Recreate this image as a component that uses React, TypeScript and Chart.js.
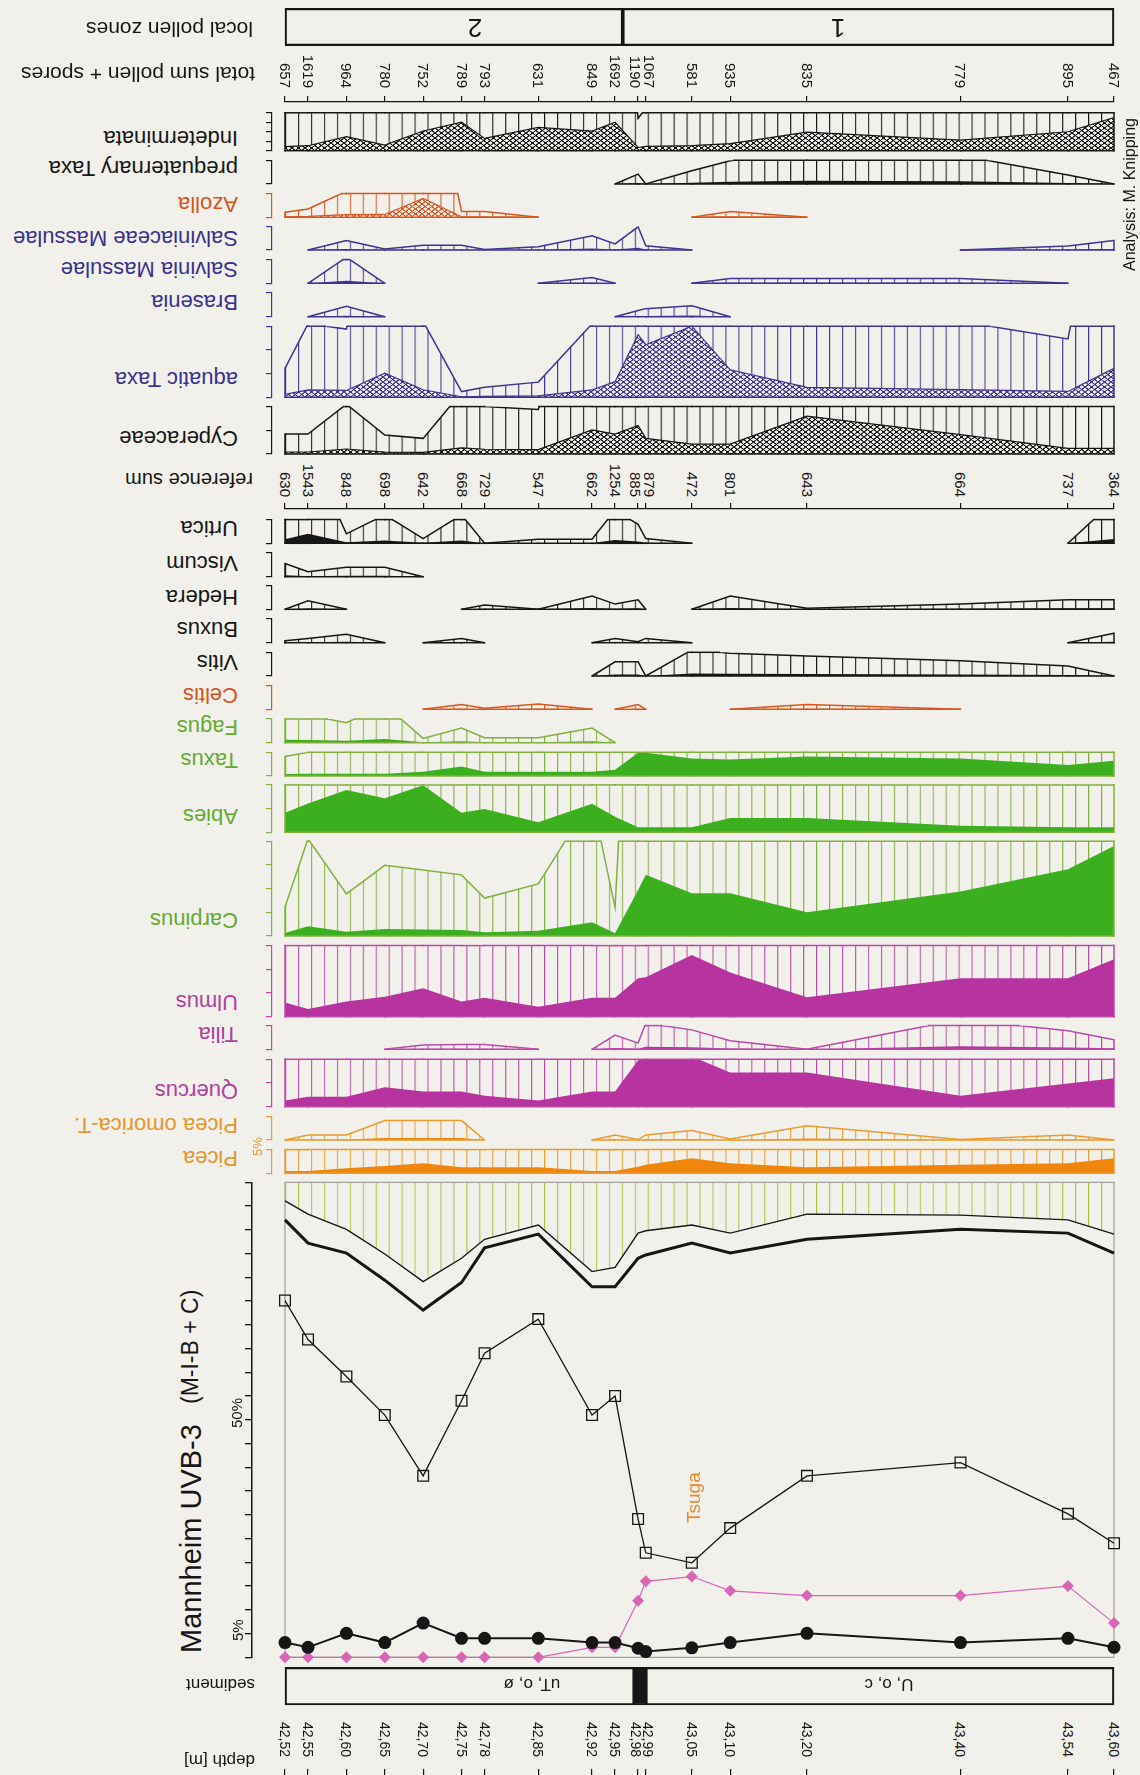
import React, { useEffect, useRef } from 'react';
import { Chart, registerables } from 'chart.js';

Chart.register(...registerables);

// ---------------- data ----------------
const depths = [42.52, 42.55, 42.6, 42.65, 42.7, 42.75, 42.78, 42.85, 42.92, 42.95, 42.98, 42.99, 43.05, 43.1, 43.2, 43.4, 43.54, 43.6];
const depthLabels = ['42,52', '42,55', '42,60', '42,65', '42,70', '42,75', '42,78', '42,85', '42,92', '42,95', '42,98', '42,99', '43,05', '43,10', '43,20', '43,40', '43,54', '43,60'];
const totalSum = [657, 1619, 964, 780, 752, 789, 793, 631, 849, 1692, 1190, 1067, 581, 935, 835, 779, 895, 467];
const referenceSum = [630, 1543, 848, 698, 642, 668, 729, 547, 662, 1254, 885, 879, 472, 801, 643, 664, 737, 364];

const zoneBounds = [42.52, 42.96, 43.6];
const zoneLabels = ['2', '1'];
const sedimentBounds = [42.52, 42.975, 42.99, 43.6];
const sedimentLabels = ['uT, o, ø', '', 'U, o, c'];

// pollen percentages (null = not recorded)
const indeterminata = [0.85, 1.05, 2.96, 1.2, 4.15, 6.0, 2.6, 4.9, 4.15, 6.0, 0.68, 0.9, 1.05, 1.5, 3.9, 2.25, 4.0, 7.0];
const prequaternary = [null, null, null, null, null, null, null, null, null, 0, 0.21, 0, 0.28, 0.49, 0.7, 0.6, 0.19, 0];
const azolla = [0.106, 0.176, 0.55, 0.6, 4.0, 0.12, 0.12, 0, null, null, null, null, 0, 0.12, 0, null, null, null];
const salviniaceae = [null, 0, 0.2, 0.02, 0.1, 0.1, 0.01, 0.07, 0.3, 0.13, 0.49, 0.09, 0, null, null, 0, 0.085, 0.2];
const salvinia = [null, 0, 0.55, 0, null, null, null, 0, 0.12, 0, null, null, 0, 0.1, 0.1, 0.1, 0, null];
const brasenia = [null, 0, 0.22, 0, null, null, null, null, null, 0, 0.13, 0.17, 0.23, 0, null, null, null, null];
const aquaticTaxa = [0.61, 1.55, 1.44, 5.1, 1.6, 0.12, 0.21, 0.32, 1.55, 3.3, 13.2, 11.1, 15.0, 5.8, 2.1, 1.6, 1.23, 6.1];
const cyperaceae = [0.42, 0.42, 1.05, 0.4, 0.33, 1.3, 1.0, 0.94, 5.1, 4.2, 6.0, 3.3, 2.1, 2.1, 8.0, 4.1, 1.2, 1.2];
const urtica = [0.85, 2.0, 0.2, 0.6, 0.1, 0.6, 0, 0.085, 0.085, 0.7, 0.4, 0.1, 0, null, null, null, 0, 0.9];
const viscum = [0.28, 0.106, 0.2, 0.2, 0, null, null, null, null, null, null, null, null, null, null, null, null, null];
const hedera = [0, 0.18, 0, null, null, 0, 0.09, 0, 0.28, 0.11, 0.2, 0, 0, 0.28, 0.02, 0.11, 0.2, 0.2];
const buxus = [0.04, 0.09, 0.18, 0, 0, 0.09, 0, null, 0, 0.09, 0.02, 0.09, 0, null, null, null, 0, 0.2];
const vitis = [null, null, null, null, null, null, null, null, 0, 0.3, 0.3, 0, 0.55, 0.48, 0.42, 0.32, 0.21, 0];
const celtis = [null, null, null, null, 0, 0.1, 0.02, 0.11, 0, 0, 0.1, 0, null, 0, 0.1, 0, null, null];
const fagus = [0.6, 0.58, 0.42, 0.8, 0.09, 0.31, 0.106, 0.106, 0.31, 0, null, null, null, null, null, null, null, null];
const taxus = [0.41, 0.5, 0.5, 0.5, 0.9, 2.0, 0.9, 0.9, 0.9, 1.3, 4.9, 4.9, 3.7, 3.5, 4.1, 3.7, 2.3, 3.2];
const abies = [4.15, 6.1, 8.9, 7.2, 9.95, 4.15, 4.9, 2.1, 6.0, 3.3, 1.06, 1.06, 1.06, 3.0, 3.0, 1.4, 1.06, 1.06];
const carpinus = [0.61, 2.05, 0.89, 1.49, 1.39, 1.29, 0.8, 1.1, 2.9, 0.6, 9.7, 12.9, 9.0, 9.0, 5.0, 9.4, 14.1, 19.0];
const ulmus = [3.0, 1.6, 3.2, 4.2, 6.0, 3.2, 4.0, 2.1, 4.0, 4.0, 8.1, 8.3, 13.0, 9.3, 4.1, 8.1, 8.1, 12.1];
const tilia = [null, null, null, 0, 0.09, 0.1, 0.1, 0, 0, 0.3, 0.13, 0.55, 0.41, 0.18, 0, 0.63, 0.39, 0.2];
const quercus = [1.3, 2.1, 2.1, 4.1, 3.2, 3.2, 2.3, 1.3, 3.2, 3.2, 9.8, 10.5, 10.6, 7.2, 7.2, 2.3, 4.9, 6.0];
const piceaOmorica = [0, 0.106, 0.106, 0.41, 0.41, 0.41, 0, null, 0, 0.106, 0.01, 0.106, 0.2, 0.02, 0.3, 0.01, 0.106, 0];
const picea = [0.5, 0.5, 1.05, 1.55, 2.1, 1.3, 1.3, 1.3, 0.5, 0.5, 1.4, 1.8, 3.2, 2.1, 1.3, 1.8, 2.1, 3.2];

// summary diagram (percent)
const sumThin = [96.1, 93.3, 90.1, 84.9, 79.1, 84.0, 88.0, 91.0, 81.2, 82.1, 89.3, 89.8, 91.0, 89.3, 93.3, 93.1, 92.1, 89.1];
const sumThick = [92.1, 87.2, 85.1, 79.4, 73.1, 78.9, 86.2, 89.1, 78.0, 78.0, 84.0, 84.7, 87.2, 85.1, 88.0, 90.1, 89.3, 85.1];
const squareSeries = [75.1, 66.9, 59.1, 51.0, 38.2, 54.0, 64.0, 71.2, 51.0, 55.0, 29.1, 22.0, 19.9, 27.2, 38.2, 41.0, 30.2, 24.0];
const diamondSeries = [0, 0, 0, 0, 0, 0, 0, 0, 2.1, 2.1, 11.9, 16.0, 17.0, 14.0, 13.0, 13.0, 15.0, 7.2];
const circleSeries = [3.1, 2.1, 5.05, 3.1, 7.2, 4.0, 4.0, 4.0, 3.1, 3.1, 1.9, 1.2, 2.0, 3.1, 5.05, 3.1, 4.0, 2.1];

// ---------------- styling ----------------
const BG = '#f2f0eb';
const BLACK = '#161616';
const FONT = '"Liberation Sans", Arial, Helvetica, sans-serif';
const COLORS: any = {
  black: { line: '#161616', solid: '#161616', label: '#161616' },
  orange: { line: '#e99b2e', solid: '#f0870c', label: '#e5962c' },
  red: { line: '#d9561e', solid: '#d9561e', label: '#d8541c' },
  magenta: { line: '#b94aa9', solid: '#b7339f', label: '#b0409f' },
  green: { line: '#80b03e', solid: '#3caf1f', label: '#62aa34' },
  blue: { line: '#3d3493', solid: '#3d3493', label: '#3a3090' },
};
const MAIN_HATCH = '#aac640';
const PINK = '#d865b5';
const ORANGE_TXT = '#e8892a';

const EXAG = 10;
const X0 = 285, X1 = 1114;
const D0 = depths[0], D1 = depths[depths.length - 1];
const PXM = (X1 - X0) / (D1 - D0);
const xPix = (d: number) => X0 + (d - D0) * PXM;
const PPP = 4.74;
const CL = 240, CW = 890, CR = CL + CW;
const PANEL_AXIS = 272, MAIN_AXIS = 252;

type Panel = { name: string; values: (number | null)[]; base: number; max: number; tick: number; color: string; real: 'solid' | 'cross'; labelY: number };

const PANELS: Panel[] = [
  { name: 'Indeterminata', values: indeterminata, base: 150.7, max: 8, tick: 2, color: 'black', real: 'cross', labelY: 138 },
  { name: 'prequaternary Taxa', values: prequaternary, base: 184, max: 5, tick: 5, color: 'black', real: 'solid', labelY: 167.5 },
  { name: 'Azolla', values: azolla, base: 217.3, max: 5, tick: 5, color: 'red', real: 'cross', labelY: 203.8 },
  { name: 'Salviniaceae Massulae', values: salviniaceae, base: 250, max: 5, tick: 5, color: 'blue', real: 'solid', labelY: 237.7 },
  { name: 'Salvinia Massulae', values: salvinia, base: 283.3, max: 5, tick: 5, color: 'blue', real: 'solid', labelY: 269.4 },
  { name: 'Brasenia', values: brasenia, base: 316.7, max: 5, tick: 5, color: 'blue', real: 'solid', labelY: 302 },
  { name: 'aquatic Taxa', values: aquaticTaxa, base: 397.3, max: 15, tick: 5, color: 'blue', real: 'cross', labelY: 379 },
  { name: 'Cyperaceae', values: cyperaceae, base: 454, max: 10, tick: 5, color: 'black', real: 'cross', labelY: 438 },
  { name: 'Urtica', values: urtica, base: 543.3, max: 5, tick: 5, color: 'black', real: 'solid', labelY: 527.6 },
  { name: 'Viscum', values: viscum, base: 576.7, max: 5, tick: 5, color: 'black', real: 'solid', labelY: 562.6 },
  { name: 'Hedera', values: hedera, base: 609.3, max: 5, tick: 5, color: 'black', real: 'solid', labelY: 596.6 },
  { name: 'Buxus', values: buxus, base: 642.7, max: 5, tick: 5, color: 'black', real: 'solid', labelY: 629.4 },
  { name: 'Vitis', values: vitis, base: 676, max: 5, tick: 5, color: 'black', real: 'solid', labelY: 662.3 },
  { name: 'Celtis', values: celtis, base: 709.3, max: 5, tick: 5, color: 'red', real: 'solid', labelY: 695.1 },
  { name: 'Fagus', values: fagus, base: 742.7, max: 5, tick: 5, color: 'green', real: 'solid', labelY: 726.8 },
  { name: 'Taxus', values: taxus, base: 776, max: 5, tick: 5, color: 'green', real: 'solid', labelY: 759.6 },
  { name: 'Abies', values: abies, base: 832.3, max: 10, tick: 5, color: 'green', real: 'solid', labelY: 816.2 },
  { name: 'Carpinus', values: carpinus, base: 936, max: 20, tick: 5, color: 'green', real: 'solid', labelY: 920.4 },
  { name: 'Ulmus', values: ulmus, base: 1016.7, max: 15, tick: 5, color: 'magenta', real: 'solid', labelY: 1001.9 },
  { name: 'Tilia', values: tilia, base: 1049.3, max: 5, tick: 5, color: 'magenta', real: 'solid', labelY: 1033.6 },
  { name: 'Quercus', values: quercus, base: 1106.7, max: 10, tick: 5, color: 'magenta', real: 'solid', labelY: 1091.3 },
  { name: 'Picea omorica-T.', values: piceaOmorica, base: 1140, max: 5, tick: 5, color: 'orange', real: 'solid', labelY: 1125.3 },
  { name: 'Picea', values: picea, base: 1173.3, max: 5, tick: 5, color: 'orange', real: 'solid', labelY: 1158.1 },
];

// ---------------- helpers ----------------
function hatchPattern(color: string): CanvasPattern {
  const c = document.createElement('canvas');
  c.width = 16; c.height = 8;
  const g = c.getContext('2d')!;
  g.fillStyle = color;
  g.fillRect(0, 0, 1.3, 8);
  const p = g.createPattern(c, 'repeat')!;
  const period = (X1 - X0) / 64;
  p.setTransform(new DOMMatrix([period / 16, 0, 0, 1, X0 - CL, 0]));
  return p;
}

function crossPattern(color: string): CanvasPattern {
  const w = 26, h = 20;
  const c = document.createElement('canvas');
  c.width = w; c.height = h;
  const g = c.getContext('2d')!;
  g.fillStyle = BG; g.fillRect(0, 0, w, h);
  g.strokeStyle = color; g.lineWidth = 4.4;
  g.beginPath();
  for (let k = -1; k <= 1; k++) {
    g.moveTo(k * w, 0); g.lineTo(k * w + w, h);
    g.moveTo(k * w + w, 0); g.lineTo(k * w, h);
  }
  g.stroke();
  const p = g.createPattern(c, 'repeat')!;
  p.setTransform(new DOMMatrix([0.25, 0, 0, 0.25, 0, 0]));
  return p;
}

const pts = (vals: (number | null)[], f = 1) => vals.map((v, i) => ({ x: depths[i], y: v == null ? null : v * f }));

const baseOpts = (padL: number, padR: number, padT: number, padB: number) => ({
  animation: false,
  responsive: false,
  devicePixelRatio: 1,
  events: [],
  layout: { padding: { left: padL, right: padR, top: padT, bottom: padB } },
  plugins: { legend: { display: false }, tooltip: { enabled: false } },
});

const hideZero = {
  borderColor: (ctx: any) => (ctx.p0.parsed.y === 0 && ctx.p1.parsed.y === 0 ? 'rgba(0,0,0,0)' : undefined),
};

function outlinePlugin(vals: (number | null)[], max: number, color: string, width: number) {
  return {
    id: 'outline',
    afterDatasetsDraw(chart: any) {
      const ctx = chart.ctx, xs = chart.scales.x, ys = chart.scales.y;
      const yT = ys.getPixelForValue(max), yB = ys.getPixelForValue(0);
      ctx.save();
      ctx.strokeStyle = color; ctx.lineWidth = width; ctx.lineCap = 'square';
      const seg = (a: number, b: number, c: number, d: number) => { ctx.beginPath(); ctx.moveTo(a, b); ctx.lineTo(c, d); ctx.stroke(); };
      for (let i = 0; i < vals.length; i++) {
        const v = vals[i];
        if (v == null) continue;
        const x = xs.getPixelForValue(depths[i]);
        const prev = i > 0 ? vals[i - 1] : null;
        const next = i < vals.length - 1 ? vals[i + 1] : null;
        if (v > 0 && (prev == null || next == null)) seg(x, yB, x, ys.getPixelForValue(Math.min(v, max)));
        if (next != null) {
          const xn = xs.getPixelForValue(depths[i + 1]);
          if (v > 0 || next > 0) seg(x, yB, xn, yB);
          if (v >= max || next >= max) {
            const f = (t: number) => x + ((t - v) / (next - v)) * (xn - x);
            const s = v >= max ? x : f(max);
            const e = next >= max ? xn : f(max);
            if (e > s) seg(s, yT, e, yT);
          }
        }
      }
      ctx.restore();
    },
  };
}

function framePlugin(color: string) {
  return {
    id: 'frame',
    beforeDatasetsDraw(chart: any) {
      const ctx = chart.ctx, xs = chart.scales.x, ys = chart.scales.y;
      const l = xs.getPixelForValue(D0), r = xs.getPixelForValue(D1);
      const t = ys.getPixelForValue(100), b = ys.getPixelForValue(0);
      ctx.save();
      ctx.strokeStyle = color; ctx.lineWidth = 1;
      ctx.strokeRect(l, t, r - l, b - t);
      ctx.restore();
    },
  };
}

function ChartBox({ left, top, width, height, make }: any) {
  const ref = useRef<HTMLCanvasElement>(null);
  useEffect(() => {
    const chart = new Chart(ref.current as any, make());
    return () => chart.destroy();
  }, []);
  return <canvas ref={ref} width={width} height={height} style={{ position: 'absolute', left, top, width, height }} />;
}

function PanelChart({ p }: { p: Panel }) {
  const col = COLORS[p.color];
  const panelTop = p.base - p.max * PPP;
  const top = Math.floor(panelTop) - 4;
  const height = Math.ceil(p.base) + 4 - top;
  const padT = panelTop - top;
  const padB = height - padT - p.max * PPP;
  const make = () => {
    const exag = p.values.map((v) => (v == null ? null : v * EXAG));
    const AW = 6;
    return {
      type: 'line',
      data: {
        datasets: [
          {
            data: pts(p.values),
            borderColor: p.real === 'cross' ? col.line : 'rgba(0,0,0,0)',
            borderWidth: p.real === 'cross' ? 1.2 : 0,
            backgroundColor: p.real === 'cross' ? crossPattern(col.solid) : col.solid,
            fill: 'origin', pointRadius: 0, tension: 0, spanGaps: false,
            clip: { left: 2, right: 2, top: 0, bottom: 2 }, segment: hideZero,
          },
          {
            data: pts(exag),
            borderColor: col.line, borderWidth: 1.5,
            backgroundColor: hatchPattern(col.line),
            fill: 'origin', pointRadius: 0, tension: 0, spanGaps: false,
            clip: { left: 2, right: 2, top: 0, bottom: 2 }, segment: hideZero,
          },
        ],
      },
      options: {
        ...baseOpts(PANEL_AXIS - AW - CL, CR - X1, padT, padB),
        scales: {
          x: { type: 'linear', min: D0 - (X0 - PANEL_AXIS) / PXM, max: D1, display: false },
          y: {
            min: 0, max: p.max, position: 'left',
            ticks: { display: false, stepSize: p.tick },
            grid: { drawOnChartArea: false, drawTicks: true, tickLength: AW, color: col.line, lineWidth: 1.2 },
            border: { display: true, color: col.line, width: 1.2 },
            afterFit: (s: any) => { s.width = AW; },
          },
        },
      },
      plugins: [outlinePlugin(exag, p.max, col.line, 1.5)],
    };
  };
  return <ChartBox left={CL} top={top} width={CW} height={height} make={make} />;
}

const MAIN_TOP = 1182.3, MAIN_BOTTOM = 1657.3;
function MainChart() {
  const top = 1170, height = 500;
  const make = () => {
    const AW = 7;
    return {
      type: 'line',
      data: {
        datasets: [
          { data: pts(circleSeries), borderColor: BLACK, borderWidth: 2, pointStyle: 'circle', pointRadius: 6.5, pointBackgroundColor: BLACK, pointBorderColor: BLACK, pointBorderWidth: 0, clip: false },
          { data: pts(diamondSeries), borderColor: PINK, borderWidth: 1.2, pointStyle: 'rectRot', pointRadius: 6, pointBackgroundColor: PINK, pointBorderColor: PINK, pointBorderWidth: 0, clip: false },
          { data: pts(squareSeries), borderColor: BLACK, borderWidth: 1.3, pointStyle: 'rect', pointRadius: 7.6, pointBackgroundColor: 'rgba(0,0,0,0)', pointBorderColor: BLACK, pointBorderWidth: 1.3, clip: false },
          { data: pts(sumThick), borderColor: BLACK, borderWidth: 3, pointRadius: 0, clip: false },
          { data: pts(sumThin), borderColor: BLACK, borderWidth: 1.4, pointRadius: 0, fill: 'end', backgroundColor: hatchPattern(MAIN_HATCH), clip: false },
        ],
      },
      options: {
        ...baseOpts(MAIN_AXIS - AW - CL, CR - X1, MAIN_TOP - top, top + height - MAIN_BOTTOM),
        scales: {
          x: { type: 'linear', min: D0 - (X0 - MAIN_AXIS) / PXM, max: D1, display: false },
          y: {
            min: 0, max: 100, position: 'left',
            ticks: { display: false, stepSize: 5 },
            grid: { drawOnChartArea: false, drawTicks: true, tickLength: AW, color: BLACK, lineWidth: 1.3 },
            border: { display: true, color: BLACK, width: 1.5 },
            afterFit: (s: any) => { s.width = AW; },
          },
        },
      },
      plugins: [framePlugin('#8c8c8c')],
    };
  };
  return <ChartBox left={CL} top={top} width={CW} height={height} make={make} />;
}

function TickAxis({ y, position }: { y: number; position: 'top' | 'bottom' }) {
  const TL = 6;
  const top = position === 'top' ? y - TL : y - 6;
  const height = 12;
  const make = () => ({
    type: 'line',
    data: { datasets: [{ data: [] }] },
    options: {
      ...baseOpts(X0 - CL, CR - X1, 0, 0),
      scales: {
        x: {
          type: 'linear', min: D0, max: D1, position,
          afterBuildTicks: (s: any) => { s.ticks = depths.map((v) => ({ value: v })); },
          ticks: { display: false },
          grid: { drawOnChartArea: false, drawTicks: true, tickLength: TL, color: BLACK, lineWidth: 1.2 },
          border: { display: position === 'top', color: BLACK, width: 1.2 },
          afterFit: (s: any) => { s.height = TL; },
        },
        y: { display: false },
      },
    },
  });
  return <ChartBox left={CL} top={top} width={CW} height={height} make={make} />;
}

function BoxChart({ bounds, fills, y0, y1 }: { bounds: number[]; fills: string[]; y0: number; y1: number }) {
  const top = Math.floor(y0) - 6;
  const height = Math.ceil(y1) + 6 - top;
  const make = () => ({
    type: 'bar',
    data: {
      labels: ['row'],
      datasets: bounds.slice(0, -1).map((b, i) => ({
        data: [[b, bounds[i + 1]]],
        backgroundColor: fills[i], borderColor: BLACK, borderWidth: 1.5, borderSkipped: false,
        grouped: false, barPercentage: 1, categoryPercentage: 1, clip: false,
      })),
    },
    options: {
      ...baseOpts(X0 - CL, CR - X1, y0 - top, top + height - y1),
      indexAxis: 'y',
      scales: {
        x: { type: 'linear', min: D0, max: D1, display: false },
        y: { display: false },
      },
    },
  });
  return <ChartBox left={CL} top={top} width={CW} height={height} make={make} />;
}

type Lbl = { t: string; x: number; y: number; r: number; size: number; color?: string; anchor?: 'start' | 'end' | 'center'; sx?: number };
function Label({ t, x, y, r, size, color = BLACK, anchor = 'start', sx = 1 }: Lbl) {
  const lh = Math.round(size * 1.2);
  const inner: any = { position: 'absolute', top: -lh / 2, lineHeight: `${lh}px`, fontSize: size, whiteSpace: 'nowrap', color };
  if (anchor === 'start') inner.left = 0;
  else if (anchor === 'end') inner.right = 0;
  else { inner.left = 0; inner.transform = 'translateX(-50%)'; }
  return (
    <div style={{ position: 'absolute', left: x, top: y, width: 0, height: 0, transform: `rotate(${r}deg) scaleX(${sx})`, transformOrigin: '0 0' }}>
      <span style={inner}>{t}</span>
    </div>
  );
}

function spreadX(minGap: number) {
  const xs = depths.map(xPix);
  const out = xs.slice();
  for (let i = 0; i < xs.length - 1; i++) {
    const gap = xs[i + 1] - xs[i];
    if (gap < minGap) { out[i] -= (minGap - gap) / 2; out[i + 1] += (minGap - gap) / 2; }
  }
  return out;
}

function buildLabels(): Lbl[] {
  const L: Lbl[] = [];
  PANELS.forEach((p) => L.push({ t: p.name, x: 238, y: p.labelY, r: 180, size: 22, color: COLORS[p.color].label }));
  L.push({ t: 'local pollen zones', x: 253, y: 30, r: 180, size: 21 });
  L.push({ t: 'total sum pollen + spores', x: 255, y: 75, r: 180, size: 21 });
  L.push({ t: 'reference sum', x: 253, y: 480, r: 180, size: 20 });
  L.push({ t: 'sediment', x: 255, y: 1684, r: 180, size: 17 });
  L.push({ t: 'depth [m]', x: 255, y: 1760, r: 180, size: 17 });
  const zx = [475, 838];
  zoneLabels.forEach((t, i) => L.push({ t, x: zx[i], y: 28, r: 180, size: 26, anchor: 'center' }));
  const sx = [532, 0, 889];
  sedimentLabels.forEach((t, i) => { if (t) L.push({ t, x: sx[i], y: 1684, r: 180, size: 17, anchor: 'center' }); });
  const lx = spreadX(13.5);
  const dx = spreadX(11.5);
  totalSum.forEach((v, i) => L.push({ t: String(v), x: lx[i], y: 88.3, r: 90, size: 15, anchor: 'end' }));
  referenceSum.forEach((v, i) => L.push({ t: String(v), x: lx[i], y: 496.7, r: 90, size: 15, anchor: 'end' }));
  depthLabels.forEach((t, i) => L.push({ t, x: dx[i], y: 1722, r: 90, size: 14, anchor: 'start' }));
  L.push({ t: 'Mannheim UVB-3', x: 191, y: 1653, r: -90, size: 29 });
  L.push({ t: '(M-I-B + C)', x: 190, y: 1404, r: -90, size: 23 });
  L.push({ t: '50%', x: 237, y: 1428, r: -90, size: 15 });
  L.push({ t: '5%', x: 238, y: 1641, r: -90, size: 15 });
  L.push({ t: '5%', x: 258, y: 1156, r: -90, size: 13, color: COLORS.orange.label });
  L.push({ t: 'Tsuga', x: 693, y: 1523, r: -90, size: 19, color: ORANGE_TXT });
  L.push({ t: 'Analysis: M. Knipping', x: 1129, y: 271, r: -90, size: 16 });
  return L;
}

export default function App() {
  useEffect(() => {
    document.body.style.margin = '0';
    document.body.style.background = BG;
  }, []);
  const labels = buildLabels();
  return (
    <div style={{ position: 'absolute', left: 0, top: 0, width: 1140, height: 1775, background: BG, overflow: 'hidden', fontFamily: FONT }}>
      {PANELS.map((p) => <PanelChart key={p.name} p={p} />)}
      <MainChart />
      <TickAxis y={102} position="top" />
      <TickAxis y={509} position="top" />
      <TickAxis y={1769} position="bottom" />
      <BoxChart bounds={zoneBounds} fills={['rgba(0,0,0,0)', 'rgba(0,0,0,0)']} y0={8.3} y1={45.7} />
      <BoxChart bounds={sedimentBounds} fills={['rgba(0,0,0,0)', BLACK, 'rgba(0,0,0,0)']} y0={1667.3} y1={1705} />
      {labels.map((l, i) => <Label key={i} {...l} />)}
    </div>
  );
}
